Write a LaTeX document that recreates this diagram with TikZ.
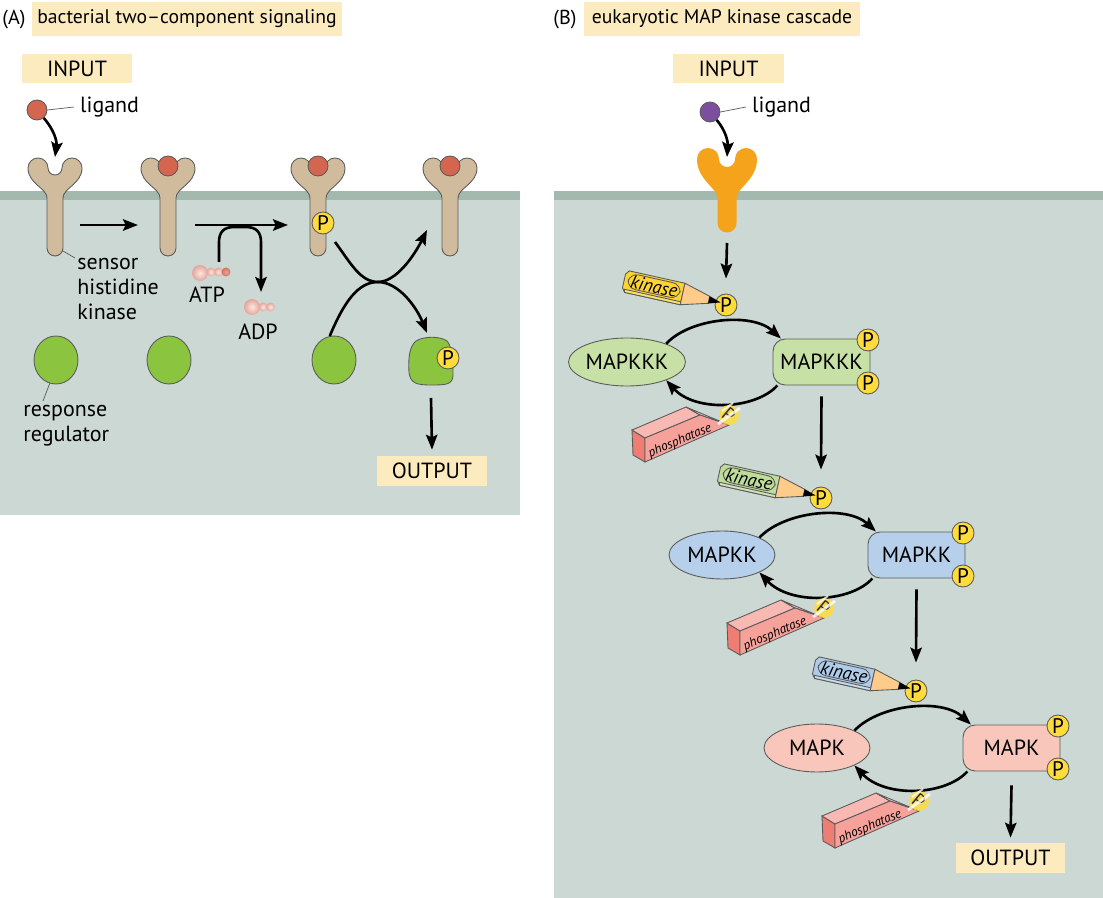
\documentclass[tikz,border=0pt]{standalone}
\usepackage{fontspec}
\setmainfont{PT Sans}
\usepackage{tikz}
\usetikzlibrary{arrows.meta,shapes.geometric}
\definecolor{cell}{HTML}{CCD8D3}
\definecolor{membrane}{HTML}{A3B9AD}
\definecolor{labelbg}{HTML}{FDEBC0}
\definecolor{tanrec}{HTML}{D1BB9D}
\definecolor{ligred}{HTML}{D4654F}
\definecolor{ligpurple}{HTML}{7B4E9E}
\definecolor{orangerec}{HTML}{F5A31B}
\definecolor{regulator}{HTML}{8BC53F}
\definecolor{phos}{HTML}{FFDC3C}
\definecolor{kkkcol}{HTML}{C7E0A5}
\definecolor{kkcol}{HTML}{B6CFEA}
\definecolor{kcol}{HTML}{F9C6BB}
\definecolor{kinA}{HTML}{FCD535}
\definecolor{kinB}{HTML}{BEDC9A}
\definecolor{kinC}{HTML}{AFCBEA}
\definecolor{wood}{HTML}{FFCB8B}
\definecolor{eraser}{HTML}{F6A29B}
\definecolor{eraserdark}{HTML}{EE7D73}
\definecolor{eraserlight}{HTML}{F9B9B3}
\definecolor{atpin}{HTML}{FCE6E1}
\definecolor{atpout}{HTML}{E3A69B}
\definecolor{atpred}{HTML}{DA6F5B}
\definecolor{outline}{HTML}{5B5B5B}

\begin{document}
\begin{tikzpicture}[x=0.02cm, y=-0.02cm, font=\fontsize{12.5}{14.5}\selectfont,
    arr/.style={line width=1.5pt, -{Stealth[length=8.5pt,width=6.5pt,inset=1.5pt]}},
    tag/.style={fill=labelbg, inner sep=0pt},
    pcirc/.style={circle, fill=phos, draw=outline, line width=0.5pt, inner sep=0pt, minimum size=0.44cm, font=\fontsize{12}{12}\selectfont},
    shell/.style={draw=outline, line width=0.5pt},
    leader/.style={draw=outline, line width=0.4pt},
    ball/.style={inner color=atpin, outer color=atpout}]

    \useasboundingbox (0,0) rectangle (1103,898);

    % (A) bacterial
    \fill[cell] (0,191) rectangle (520,515);
    \fill[membrane] (0,191) rectangle (520,200);
    \node[anchor=west, inner sep=0pt, font=\fontsize{11.5}{13}\selectfont] (tagA) at (2,20) {(A)};
    \node[tag, minimum width=6.2cm, minimum height=0.68cm, font=\fontsize{11.2}{13}\selectfont] (titleA) at (187,19) {bacterial two–component signaling};
    \node[tag, minimum width=2.2cm, minimum height=0.58cm] (inA) at (77,68.5) {INPUT};

    \foreach \rx [count=\n] in {55,168,318,450} {
        \coordinate (rec\n) at (\rx,157);
        \filldraw[fill=tanrec, shell, shift={(\rx,0)}] (-8,248) -- (-8,198)
            .. controls (-8,188) and (-27,184) .. (-27,168)
            arc[start angle=180, end angle=360, radius=10]
            arc[start angle=180, end angle=0, radius=7]
            arc[start angle=180, end angle=360, radius=10]
            .. controls (27,184) and (8,188) .. (8,198) -- (8,248)
            arc[start angle=0, end angle=180, radius=8] -- cycle;
    }
    \foreach \rx in {168,318,450}
        \filldraw[fill=ligred, shell] (\rx,166) circle[radius=10];

    \node[circle, fill=ligred, shell, minimum size=0.4cm, inner sep=0pt] (ligA) at (37,110) {};
    \node[anchor=west] (ligtxtA) at (74,107) {ligand};
    \draw[leader] (ligA.east) -- (ligtxtA.west);
    \draw[arr] (ligA.-50) .. controls (55,131) and (57,142) .. (rec1);

    \draw[arr] ([shift={(25,68)}]rec1) -- ([shift={(-30,68)}]rec2);
    \draw[arr] ([shift={(27,68)}]rec2) -- ([shift={(-30,68)}]rec3);
    \node[pcirc] (pA1) at (323,223) {P};

    \coordinate (hookA) at (219,262);
    \coordinate (hookB) at (261,292);
    \draw[arr] (hookA) -- (219,242) .. controls (219,232) and (224,227) .. (234,227)
        -- (246,227) .. controls (256,227) and (261,232) .. (261,242) -- (hookB);

    \shade[ball] (200,273) circle[radius=8];
    \shade[ball] (211,272) circle[radius=4.5];
    \shade[ball] (218.5,272) circle[radius=4.5];
    \shade[inner color=atpout, outer color=atpred] (226,272) circle[radius=4.5];
    \node (atp) at (207,295) {ATP};
    \shade[ball] (252,307) circle[radius=8];
    \shade[ball] (263,307) circle[radius=4.5];
    \shade[ball] (270.5,307) circle[radius=4.5];
    \node (adp) at (258,332) {ADP};

    \node[anchor=west, align=left, inner sep=0pt, font=\fontsize{12.5}{14.2}\selectfont] (sensor) at (77,289) {sensor\\histidine\\kinase};
    \draw[leader] (63,251) -- (75,258);

    \foreach \gx [count=\n] in {56,169,334}
        \node[ellipse, fill=regulator, shell, minimum width=0.88cm, minimum height=0.96cm, inner sep=0pt] (rr\n) at (\gx,360) {};
    \filldraw[fill=regulator, shell] (409,372) .. controls (408,356) and (410,346) .. (416,341)
        .. controls (424,336) and (440,336) .. (447,341)
        .. controls (452,346) and (453,362) .. (453,375)
        .. controls (453,385) and (445,385) .. (431,385)
        .. controls (418,385) and (410,384) .. (409,372) -- cycle;
    \coordinate (rr4) at (431,385);
    \node[pcirc] (pA2) at (448,358) {P};

    \node[anchor=west, align=left, inner sep=0pt, font=\fontsize{12.5}{14.2}\selectfont] (resp) at (23,426) {response\\regulator};
    \draw[leader] (rr1.255) -- (43,401);

    \coordinate (crA) at (378,282);
    \draw[arr] (335,242) .. controls (350,262) and (360,282) .. (crA)
        .. controls (396,282) and (414,256) .. (427,230);
    \draw[arr] (rr3.100) .. controls (344,302) and (358,282) .. (crA)
        .. controls (398,282) and (416,306) .. (427,333);

    \node[tag, minimum width=2.2cm, minimum height=0.6cm] (outA) at (432,471) {OUTPUT};
    \draw[arr] ([shift={(0,13)}]rr4) -- ([shift={(0,-6)}]outA.north);

    % (B) eukaryotic
    \fill[cell] (554,191) rectangle (1103,898);
    \fill[membrane] (554,191) rectangle (1103,200);
    \node[anchor=west, inner sep=0pt, font=\fontsize{11.5}{13}\selectfont] (tagB) at (553,20) {(B)};
    \node[tag, minimum width=5.52cm, minimum height=0.68cm, font=\fontsize{11.2}{13}\selectfont] (titleB) at (722,19) {eukaryotic MAP kinase cascade};
    \node[tag, minimum width=2.22cm, minimum height=0.58cm] (inB) at (728.5,68.5) {INPUT};

    \fill[orangerec, shift={(727,0)}] (-9.5,223) -- (-9.5,198)
        .. controls (-9.5,188) and (-30,180) .. (-30,159)
        arc[start angle=180, end angle=360, radius=11]
        arc[start angle=180, end angle=0, radius=8]
        arc[start angle=180, end angle=360, radius=11]
        .. controls (30,180) and (9.5,188) .. (9.5,198) -- (9.5,223)
        arc[start angle=0, end angle=180, radius=9.5] -- cycle;
    \coordinate (recB) at (727,157);
    \coordinate (stemB) at (727,232);

    \node[circle, fill=ligpurple, shell, minimum size=0.4cm, inner sep=0pt] (ligB) at (710,112) {};
    \node[anchor=west] (ligtxtB) at (746,107) {ligand};
    \draw[leader] (ligB.east) -- (ligtxtB.west);
    \draw[arr] (ligB.-50) .. controls (726,131) and (728,142) .. (recB);

    \foreach \nm/\lbl/\fcol/\pcol [count=\i from 0] in {mapkkk/MAPKKK/kkkcol/kinA, mapkk/MAPKK/kkcol/kinB, mapk/MAPK/kcol/kinC} {
        \begin{scope}[shift={(95*\i,193*\i)}]
            \node[ellipse, fill=\fcol, shell, minimum width=2.12cm, minimum height=0.96cm, inner sep=0pt] (\nm) at (627,362) {\lbl};
            \node[rectangle, rounded corners=7pt, fill=\fcol, shell, minimum width=1.94cm, minimum height=0.92cm] (\nm2) at (821.5,362) {\lbl};
            \node[pcirc] (\nm p1) at (868,340) {P};
            \node[pcirc] (\nm p2) at (868,383) {P};
            \draw[arr] (\nm.25) .. controls (690,318) and (752,312) .. (\nm2.150);
            \draw[arr] (\nm2.208) .. controls (755,410) and (695,412) .. (\nm.-25);

            \node[pcirc] (kp\i) at (726,305) {P};
            \begin{scope}[shift={(624,281)}, rotate=-12.5]
                \filldraw[fill=\pcol, shell] (0,-7) -- (3,-11) -- (60,-11) -- (60,11) -- (3,11) -- (0,7) -- cycle;
                \filldraw[fill=\pcol!70!white, shell] (2,8) -- (60,8) -- (60,11) -- (3,11) -- cycle;
                \draw[shell, rounded corners=5pt] (4,-9) rectangle (57,6);
                \filldraw[fill=wood, shell] (60,-11) -- (87,-3.6) -- (87,3.6) -- (60,11) -- cycle;
                \fill[black] (87,-3.8) -- (99,0) -- (87,3.8) -- cycle;
                \node[rotate=-12.5, font=\itshape\fontsize{10.5}{10.5}\selectfont] at (30.5,-1.5) {kinase};
            \end{scope}

            \filldraw[fill=eraserdark, shell] (632,430) -- (645,438) -- (645,462) -- (633,455) -- cycle;
            \filldraw[fill=eraserlight, shell] (632,430) -- (686,407) -- (700,415) -- (645,438) -- cycle;
            \filldraw[fill=eraserlight!70!white, shell] (686,407) -- (729,425) -- (700,415) -- cycle;
            \filldraw[fill=eraser, shell] (645,438) -- (700,415) -- (729,425) -- (645,462) -- cycle;
            \node[rotate=23, font=\itshape\fontsize{7.5}{7.5}\selectfont] at (680,441) {phosphatase};
            \fill[phos, opacity=0.85] (729,415) circle[radius=10];
            \node[rotate=-40, font=\fontsize{11}{11}\selectfont, text=black!80] at (729,415) {P};
            \draw[white, line width=1.6pt, opacity=0.8] (718,424) -- (740,408);
            \draw[white, line width=1.1pt, opacity=0.8] (722,411) -- (733,403);
        \end{scope}
    }

    \draw[arr] ([shift={(0,11)}]stemB) -- ([shift={(0,-15)}]kp0.north);
    \draw[arr] ([shift={(0,11)}]mapkkk2.south) -- ([shift={(0,-17)}]kp1.north);
    \draw[arr] ([shift={(0,11)}]mapkk2.south) -- ([shift={(0,-17)}]kp2.north);
    \node[tag, minimum width=2.18cm, minimum height=0.6cm] (outB) at (1010.5,858) {OUTPUT};
    \draw[arr] ([shift={(0,14)}]mapk2.south) -- ([shift={(0,-5)}]outB.north);
\end{tikzpicture}
\end{document}
